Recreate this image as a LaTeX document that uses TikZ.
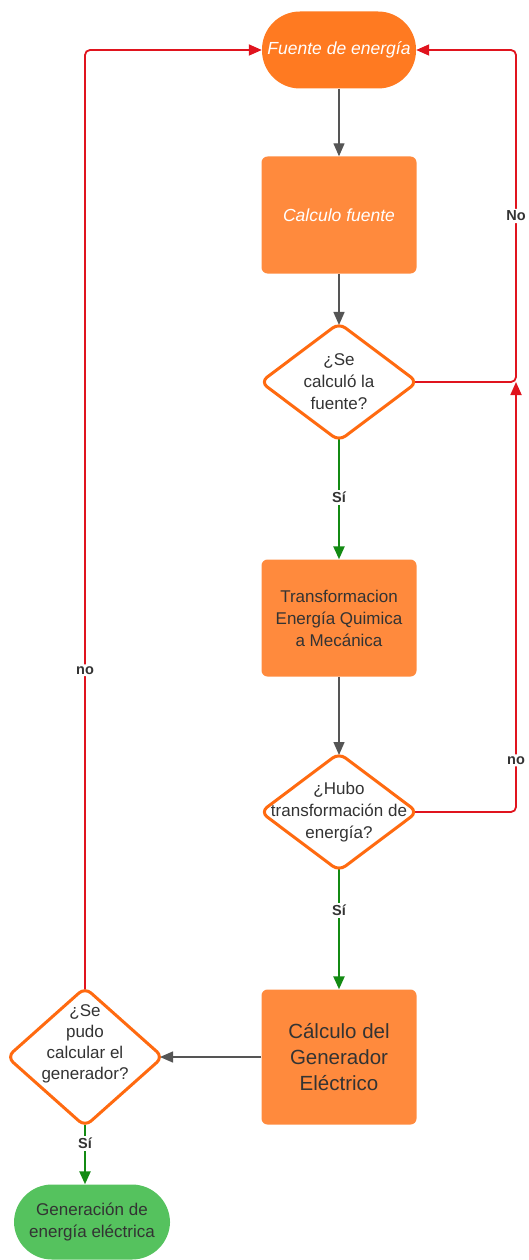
\documentclass[tikz,border=0pt]{standalone}
\usepackage{fontspec}
\setmainfont{Liberation Sans}
\usetikzlibrary{shapes.geometric,arrows.meta,backgrounds}
\definecolor{fuenteorange}{HTML}{FF7A21}
\definecolor{boxorange}{HTML}{FF8A3D}
\definecolor{diaorange}{HTML}{FF6A10}
\definecolor{termgreen}{HTML}{55C25E}
\definecolor{linegray}{HTML}{555555}
\definecolor{nored}{HTML}{E0141E}
\definecolor{sigreen}{HTML}{138A13}
\definecolor{txtgray}{HTML}{333333}
\begin{document}
\begin{tikzpicture}[x=1pt, y=-1pt, line join=round, font=\fontsize{17}{22}\selectfont,
  pill/.style={rectangle, rounded corners=38pt, minimum width=154pt, minimum height=77pt, inner sep=0pt, align=center},
  boxnode/.style={rectangle, rounded corners=6pt, fill=boxorange, minimum width=155pt, minimum height=117pt, inner sep=0pt, align=center},
  dia/.style={diamond, draw=diaorange, line width=3pt, fill=white, rounded corners=8pt, minimum width=158pt, minimum height=119pt, inner sep=0pt},
  diatext/.style={align=center, text=txtgray, inner sep=0pt},
  lbl/.style={fill=white, font=\fontsize{14.5}{14.5}\selectfont\bfseries, text=txtgray, inner sep=2pt},
  grayarr/.style={draw=linegray, line width=1.4pt, -{Triangle[length=13pt,width=11pt]}},
  greenarr/.style={draw=sigreen, line width=2.4pt, -{Triangle[length=13pt,width=11pt]}},
  redline/.style={draw=nored, line width=1.8pt, rounded corners=5pt, -{Triangle[length=13pt,width=11pt]}}]
  \useasboundingbox (0,0) rectangle (528,1260);
  % nodes
  \node[pill, fill=fuenteorange, text=white, font=\fontsize{17.5}{22}\selectfont\itshape] (fuente) at (339,50) {Fuente de energía};
  \node[boxnode, text=white, font=\fontsize{17.5}{22}\selectfont\itshape] (calculo) at (339,215) {Calculo fuente};
  \node[dia] (dcalc) at (339,382) {};
  \node[diatext] (tcalc) at (dcalc) {¿Se\\calculó la\\fuente?};
  \node[boxnode, text=txtgray] (transf) at (339,618) {Transformacion\\Energía Quimica\\a Mecánica};
  \node[dia] (dtransf) at (339,812) {};
  \node[diatext] (ttransf) at (dtransf) {¿Hubo\\transformación de\\energía?};
  \node[boxnode, minimum height=135pt, text=txtgray, font=\fontsize{20.5}{26}\selectfont] (gen) at (339,1057) {Cálculo del\\Generador\\Eléctrico};
  \node[dia, minimum width=157pt, minimum height=140pt] (dgen) at (85,1057) {};
  \node[diatext, yshift=13pt, font=\fontsize{17}{21}\selectfont] (tgen) at (dgen) {¿Se\\pudo\\calcular el\\generador?};
  \node[pill, fill=termgreen, text=txtgray, minimum width=156pt, minimum height=75pt] (salida) at (92,1222) {Generación de\\energía eléctrica};
  % corners of the red loops
  \coordinate (rtop) at (516,50);
  \coordinate (rjoin) at (516,382);
  \coordinate (ltop) at (85,50);
  \path (dtransf.east -| rjoin) coordinate (rlow);
  % connectors, under the shapes
  \begin{scope}[on background layer]
    \draw[grayarr] (fuente) -- (calculo);
    \draw[grayarr, shorten >=-4pt] (calculo) -- (dcalc);
    \draw[greenarr, shorten <=-4pt] (dcalc) -- node[lbl, pos=0.47]{Sí} (transf);
    \draw[grayarr, shorten >=-4pt] (transf) -- (dtransf);
    \draw[greenarr, shorten <=-4pt] (dtransf) -- node[lbl, pos=0.32]{Sí} (gen);
    \draw[grayarr, shorten >=-5pt] (gen) -- (dgen);
    \draw[greenarr, shorten <=-4pt] (dgen.south) -- node[lbl, pos=0.27]{Sí} (dgen.south |- salida.north);
    \draw[redline, shorten <=-5pt] (dcalc.east) -- (rjoin) -- node[lbl]{No} (rtop) -- (fuente.east);
    \draw[redline, shorten <=-5pt] (dtransf.east) -- (rlow) -- node[lbl, pos=0.12]{no} (rjoin);
    \draw[redline, shorten <=-4pt] (dgen.north) -- node[lbl, pos=0.337]{no} (ltop) -- (fuente.west);
  \end{scope}
\end{tikzpicture}
\end{document}
